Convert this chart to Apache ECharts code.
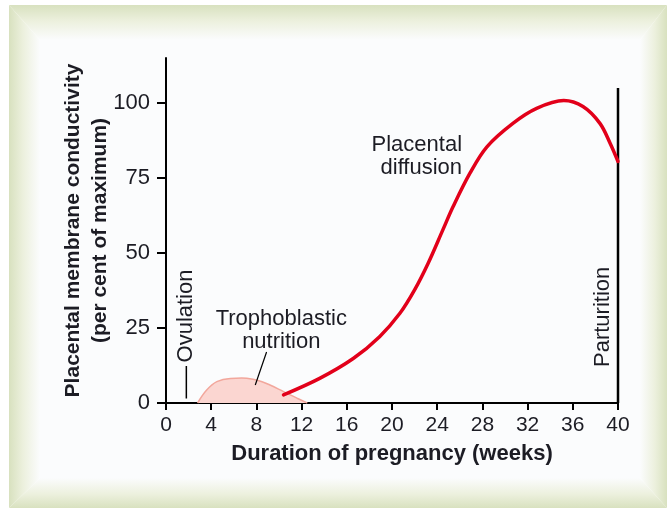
<!DOCTYPE html>
<html>
<head>
<meta charset="utf-8">
<script src="https://cdn.jsdelivr.net/npm/echarts@6/dist/echarts.min.js"></script>
<style>
  html, body { margin: 0; padding: 0; background: #fff; }
  #container { width: 667px; height: 510px; }
</style>
</head>
<body>
<div id="container"></div>
<script>
// weeks on the x axis, per cent of maximum on the y axis
const weekTicks = [0, 4, 8, 12, 16, 20, 24, 28, 32, 36, 40];
const conductivityTicks = [0, 25, 50, 75, 100];

// placental diffusion (red curve)
const diffusionWeeks = [10.4, 13.6, 16.6, 18.9, 20.7, 22, 23.2, 24.5, 25.4, 26.9, 28.4, 30.7, 32.8, 35.2, 36.9, 38.4, 39.3, 40];
const diffusionValues = [2.7, 8.2, 14.9, 22.1, 29.9, 37.7, 46.6, 57.7, 65.4, 76.6, 85.4, 93.2, 98.2, 100.8, 98.8, 93.2, 86.6, 80.5];

// trophoblastic nutrition (pink hump)
const trophoWeeks = [2.8, 3.6, 4.5, 5.7, 6.7, 7.7, 8.5, 9.2, 10.4, 11.6, 12.5];
const trophoValues = [0, 4.3, 7.1, 8.2, 8.3, 7.9, 7.1, 6.0, 3.8, 1.6, 0];

// event markers
const ovulationWeek = 1.8;
const ovulationSpan = [1.5, 12.3];
const parturitionWeek = 40;
const parturitionSpan = [0, 105];
const pointerWeeks = [8.9, 7.9];
const pointerValues = [17, 6];

const zip = (xs, ys) => xs.map((x, i) => [x, ys[i]]);

let dom = document.getElementById('container');
let myChart = echarts.init(dom);

const textColor = '#1c1c24';
const font = 'Liberation Sans, Arial, sans-serif';

let option = {
  animation: false,
  backgroundColor: '#fff',
  grid: { left: 166, right: 49, top: 58, bottom: 107 },
  xAxis: {
    type: 'value',
    min: 0,
    max: 40,
    interval: 4,
    name: 'Duration of pregnancy (weeks)',
    nameLocation: 'middle',
    nameGap: 40,
    nameMoveOverlap: false,
    nameTextStyle: { fontFamily: font, fontSize: 22, fontWeight: 'bold', color: textColor },
    axisLine: { lineStyle: { color: '#000', width: 2 } },
    axisTick: { show: true, length: 7, lineStyle: { color: '#000', width: 2 } },
    axisLabel: { fontFamily: font, fontSize: 21, color: textColor, margin: 12,
      formatter: v => weekTicks.includes(v) ? String(v) : '' },
    splitLine: { show: false }
  },
  yAxis: {
    type: 'value',
    min: 0,
    max: 115,
    name: 'Placental membrane conductivity\n(per cent of maximum)',
    nameLocation: 'middle',
    nameGap: 52,
    nameMoveOverlap: false,
    nameRotate: 90,
    nameTextStyle: { fontFamily: font, fontSize: 21, fontWeight: 'bold', color: textColor, lineHeight: 27 },
    axisLine: { show: true, lineStyle: { color: '#000', width: 2 } },
    axisTick: { show: true, length: 9, customValues: conductivityTicks, lineStyle: { color: '#000', width: 2 } },
    axisLabel: { fontFamily: font, fontSize: 22, color: textColor, margin: 16, customValues: conductivityTicks },
    splitLine: { show: false }
  },
  series: [
    {
      name: 'Trophoblastic nutrition',
      type: 'line',
      data: zip(trophoWeeks, trophoValues),
      smooth: 0.4,
      symbol: 'none',
      lineStyle: { color: '#f2a79c', width: 1.5 },
      areaStyle: { color: '#fbd6d1', opacity: 1 },
      z: 2
    },
    {
      name: 'Placental diffusion',
      type: 'line',
      data: zip(diffusionWeeks, diffusionValues),
      smooth: 0.35,
      symbol: 'none',
      lineStyle: { color: '#e2001a', width: 3.5, cap: 'round' },
      z: 4
    },
    {
      name: 'Ovulation',
      type: 'line',
      data: ovulationSpan.map(v => [ovulationWeek, v]),
      symbol: 'none',
      lineStyle: { color: '#000', width: 1.5 },
      z: 3
    },
    {
      name: 'Parturition',
      type: 'line',
      data: parturitionSpan.map(v => [parturitionWeek, v]),
      symbol: 'none',
      lineStyle: { color: '#000', width: 2.5 },
      z: 3
    },
    {
      name: 'pointer',
      type: 'line',
      data: zip(pointerWeeks, pointerValues),
      symbol: 'none',
      lineStyle: { color: '#000', width: 1.2 },
      z: 3
    }
  ]
};

myChart.setOption(option);

// annotation texts placed in data coordinates
const notes = [
  { text: 'Placental\ndiffusion', at: [26.2, 82.3], align: 'right', rotation: 0 },
  { text: 'Trophoblastic\nnutrition', at: [10.2, 24.3], align: 'center', rotation: 0 },
  { text: 'Ovulation', at: [ovulationWeek, 29], align: 'center', rotation: Math.PI / 2 },
  { text: 'Parturition', at: [38.7, 28.7], align: 'center', rotation: Math.PI / 2 }
];

// green bevelled frame: four trapezoids fading to white towards the panel
const green = '#d8e1bf';
const panel = '#fbfcfd';
const O = { l: 9, t: 5, r: 667, b: 508 };
const I = { l: 40, t: 40, r: 640, b: 478 };
function fade(x, y, x2, y2) {
  return { type: 'linear', x: x, y: y, x2: x2, y2: y2,
    colorStops: [{ offset: 0, color: green }, { offset: 0.45, color: '#ecf0dd' }, { offset: 1, color: panel }] };
}
let elements = [
  { type: 'rect', shape: { x: I.l, y: I.t, width: I.r - I.l, height: I.b - I.t }, style: { fill: panel }, z: -20, silent: true },
  { type: 'polygon', shape: { points: [[O.l, O.t], [O.r, O.t], [I.r, I.t], [I.l, I.t]] }, style: { fill: fade(0, 0, 0, 1) }, z: -19, silent: true },
  { type: 'polygon', shape: { points: [[O.l, O.b], [O.r, O.b], [I.r, I.b], [I.l, I.b]] }, style: { fill: fade(0, 1, 0, 0) }, z: -19, silent: true },
  { type: 'polygon', shape: { points: [[O.l, O.t], [I.l, I.t], [I.l, I.b], [O.l, O.b]] }, style: { fill: fade(0, 0, 1, 0) }, z: -19, silent: true },
  { type: 'polygon', shape: { points: [[O.r, O.t], [I.r, I.t], [I.r, I.b], [O.r, O.b]] }, style: { fill: fade(1, 0, 0, 0) }, z: -19, silent: true }
];

notes.forEach(n => {
  let p = myChart.convertToPixel({ gridIndex: 0 }, n.at);
  elements.push({
    type: 'text',
    x: p[0],
    y: p[1],
    rotation: n.rotation,
    style: {
      text: n.text,
      fontFamily: font,
      fontSize: 22,
      lineHeight: 23,
      fill: textColor,
      align: n.align,
      verticalAlign: 'middle'
    },
    z: 10
  });
});

myChart.setOption({ graphic: { elements: elements } });
</script>
</body>
</html>
